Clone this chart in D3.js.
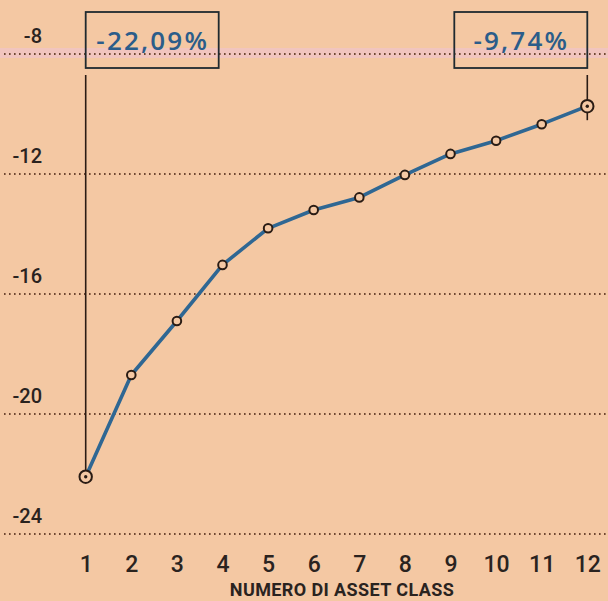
<!DOCTYPE html>
<html>
<head>
<meta charset="utf-8">
<script src="https://cdn.jsdelivr.net/npm/d3@7"></script>
<style>
  html, body { margin: 0; padding: 0; background: #f4c9a4; }
  svg { display: block; }
</style>
</head>
<body>
<div id="chart"></div>
<script>
const assetClasses = [1, 2, 3, 4, 5, 6, 7, 8, 9, 10, 11, 12];
const drawdown = [-22.09, -18.70, -16.90, -15.03, -13.81, -13.20, -12.78, -12.03, -11.33, -10.89, -10.34, -9.74];
const yTicks = [-8, -12, -16, -20, -24];
const endLabels = ["-22,09%", "-9,74%"];
const xTitle = "NUMERO DI ASSET CLASS";

const width = 608, height = 601;

const svg = d3.select("#chart")
    .append("svg")
    .attr("width", width)
    .attr("height", height);

svg.append("rect")
    .attr("width", width)
    .attr("height", height)
    .attr("fill", "#f4c8a3");

const x = d3.scaleLinear()
    .domain([1, 12])
    .range([85.7, 587.3]);

const y = d3.scaleLinear()
    .domain([-24, -8])
    .range([534, 54]);

// pinkish highlight behind the top gridline
svg.append("rect")
    .attr("x", 0)
    .attr("y", y(-8) - 6)
    .attr("width", width)
    .attr("height", 10)
    .attr("fill", "#f0c4c4")
    .attr("opacity", 0.8);

// dotted gridlines
svg.append("g")
    .selectAll("line")
    .data(yTicks)
    .join("line")
    .attr("x1", 4)
    .attr("x2", width)
    .attr("y1", d => y(d))
    .attr("y2", d => y(d))
    .attr("stroke", "#6e4631")
    .attr("stroke-width", 1.8)
    .attr("stroke-dasharray", "1.6 3.4");

// y tick labels
svg.append("g")
    .selectAll("text")
    .data(yTicks)
    .join("text")
    .attr("x", 42)
    .attr("y", d => y(d) - 11)
    .attr("text-anchor", "end")
    .attr("font-family", "Roboto, sans-serif")
    .attr("font-weight", 500)
    .attr("font-size", 20)
    .attr("fill", "#2a231f")
    .text(d => d);

// x axis labels
const xAxis = d3.axisBottom(x)
    .tickValues(assetClasses)
    .tickSize(0)
    .tickPadding(0)
    .tickFormat(d3.format("d"));

const gx = svg.append("g")
    .attr("transform", "translate(0,556)")
    .call(xAxis);
gx.select(".domain").remove();
gx.selectAll("text")
    .attr("dy", "0.71em")
    .attr("font-family", "Roboto, sans-serif")
    .attr("font-weight", 500)
    .attr("font-size", 23)
    .attr("fill", "#2a231f");

svg.append("text")
    .attr("x", 342)
    .attr("y", 596)
    .attr("text-anchor", "middle")
    .attr("font-family", "Roboto, sans-serif")
    .attr("font-weight", 700)
    .attr("font-size", 18)
    .attr("letter-spacing", 0.4)
    .attr("fill", "#2a231f")
    .text(xTitle);

// leader lines from the boxes
const first = 0, last = drawdown.length - 1;
svg.append("line")
    .attr("x1", x(assetClasses[first])).attr("x2", x(assetClasses[first]))
    .attr("y1", 75).attr("y2", y(drawdown[first]))
    .attr("stroke", "#2a1c14").attr("stroke-width", 1.6);
svg.append("line")
    .attr("x1", x(assetClasses[last])).attr("x2", x(assetClasses[last]))
    .attr("y1", 75).attr("y2", y(drawdown[last]) + 14)
    .attr("stroke", "#2a1c14").attr("stroke-width", 1.6);

// line
const line = d3.line()
    .x((d, i) => x(assetClasses[i]))
    .y(d => y(d));

svg.append("path")
    .datum(drawdown)
    .attr("fill", "none")
    .attr("stroke", "#2f6793")
    .attr("stroke-width", 3.6)
    .attr("stroke-linejoin", "round")
    .attr("d", line);

// markers
svg.append("g")
    .selectAll("circle")
    .data(drawdown)
    .join("circle")
    .attr("cx", (d, i) => x(assetClasses[i]))
    .attr("cy", d => y(d))
    .attr("r", (d, i) => (i === first || i === last) ? 6.2 : 4.3)
    .attr("fill", "#f4c8a3")
    .attr("stroke", "#2a1c14")
    .attr("stroke-width", 2);

svg.append("g")
    .selectAll("circle")
    .data([first, last])
    .join("circle")
    .attr("cx", i => x(assetClasses[i]))
    .attr("cy", i => y(drawdown[i]))
    .attr("r", 1.7)
    .attr("fill", "#2a1c14");

// value boxes
const boxes = [
    { i: first, x0: x(assetClasses[first]), label: endLabels[0] },
    { i: last, x0: x(assetClasses[last]) - 133, label: endLabels[1] }
];

const gb = svg.append("g")
    .selectAll("g")
    .data(boxes)
    .join("g");

gb.append("rect")
    .attr("x", d => d.x0)
    .attr("y", 12)
    .attr("width", 133)
    .attr("height", 56)
    .attr("fill", "none")
    .attr("stroke", "#1f2a30")
    .attr("stroke-width", 1.8);

gb.append("text")
    .attr("x", d => d.x0 + 67)
    .attr("y", 50)
    .attr("text-anchor", "middle")
    .attr("font-family", "'Open Sans', sans-serif")
    .attr("font-weight", 600)
    .attr("font-size", 26)
    .attr("letter-spacing", 2.2)
    .attr("fill", "#2b5d8a")
    .text(d => d.label);
</script>
</body>
</html>
